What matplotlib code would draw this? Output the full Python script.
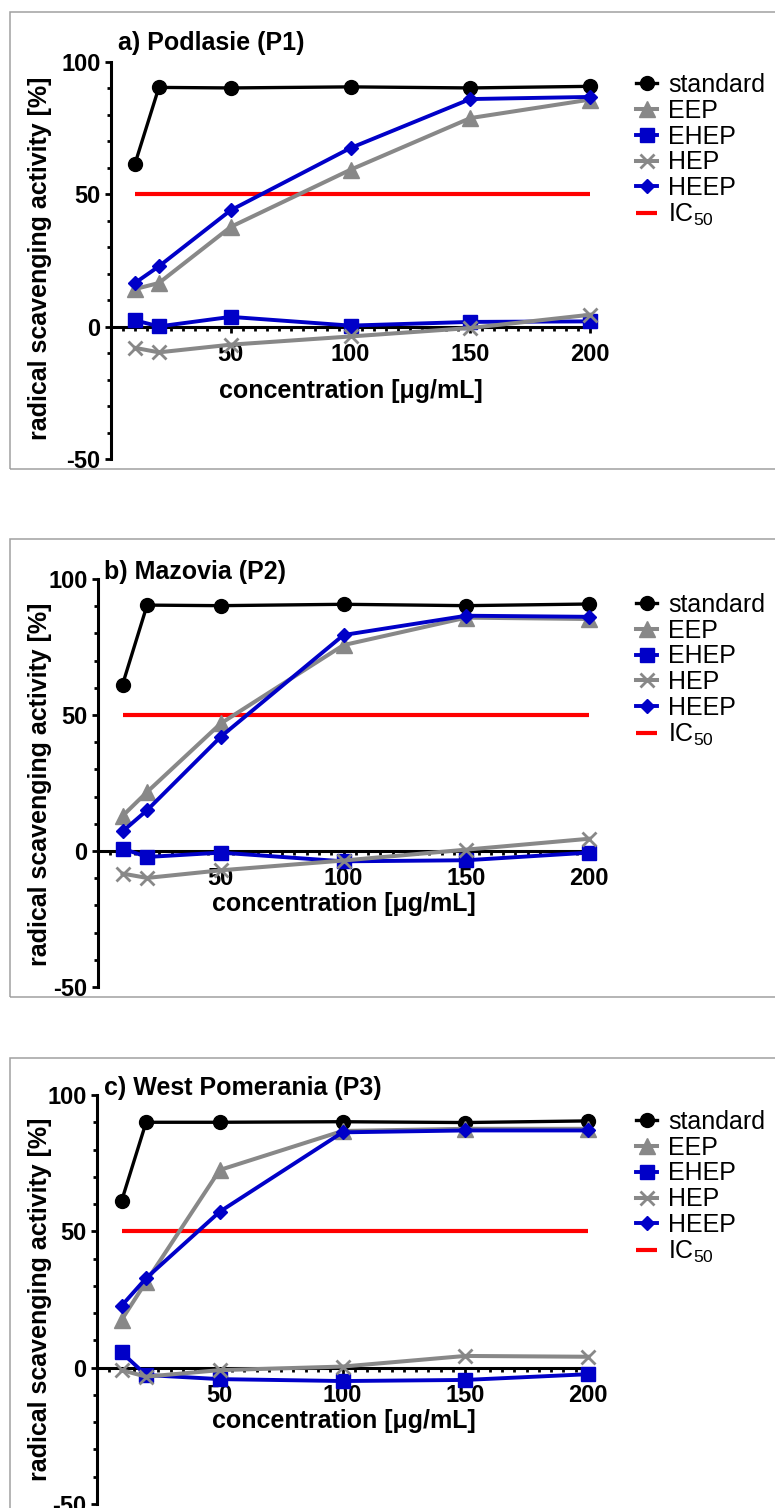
import matplotlib
matplotlib.use("Agg")
import matplotlib.pyplot as plt
from matplotlib.ticker import MultipleLocator, FixedLocator
from matplotlib.patches import Rectangle

plt.rcParams['font.family'] = ['Liberation Sans', 'DejaVu Sans']
plt.rcParams['mathtext.default'] = 'regular'
plt.rcParams['axes.unicode_minus'] = False

# ---------------- data ----------------
conc = [10, 20, 50, 100, 150, 200]
ic50 = 50

panel_titles = ["a) Podlasie (P1)", "b) Mazovia (P2)", "c) West Pomerania (P3)"]
series_names = ["standard", "EEP", "EHEP", "HEP", "HEEP"]

p1_standard = [61.5, 90.4, 90.2, 90.6, 90.2, 90.8]
p1_eep = [14.2, 16.5, 37.7, 59.3, 78.8, 85.8]
p1_ehep = [2.4, 0.1, 3.7, 0.4, 1.8, 2.0]
p1_hep = [-8.0, -9.7, -6.8, -3.7, -0.5, 4.5]
p1_heep = [16.5, 22.8, 44.0, 67.5, 86.0, 86.8]

p2_standard = [61.2, 90.4, 90.2, 90.7, 90.2, 90.8]
p2_eep = [12.9, 21.7, 46.9, 75.7, 85.8, 85.3]
p2_ehep = [0.9, -2.2, -0.6, -3.8, -3.4, -0.6]
p2_hep = [-8.3, -9.9, -7.1, -3.5, 0.5, 4.5]
p2_heep = [7.2, 15.0, 42.0, 79.4, 86.5, 86.1]

p3_standard = [61.1, 90.0, 90.0, 90.2, 89.9, 90.5]
p3_eep = [17.5, 31.5, 72.5, 86.8, 87.6, 87.6]
p3_ehep = [5.6, -2.7, -4.2, -4.9, -4.5, -2.4]
p3_hep = [-0.9, -3.3, -0.9, 0.4, 4.3, 4.0]
p3_heep = [22.7, 32.8, 57.2, 86.3, 87.0, 87.0]

panels = [
    [p1_standard, p1_eep, p1_ehep, p1_hep, p1_heep],
    [p2_standard, p2_eep, p2_ehep, p2_hep, p2_heep],
    [p3_standard, p3_eep, p3_ehep, p3_hep, p3_heep],
]

# ---------------- styles ----------------
BLACK = '#000000'
GRAY = '#888888'
BLUE = '#0000c8'
RED = '#ff0000'
styles = [
    dict(color=BLACK, marker='o', ms=10, lw=2.4),
    dict(color=GRAY, marker='^', ms=11, lw=2.9),
    dict(color=BLUE, marker='s', ms=9.5, lw=2.8),
    dict(color=GRAY, marker='x', ms=10, lw=2.9, mew=2.0),
    dict(color=BLUE, marker='D', ms=7.5, lw=2.8),
]

W, H = 775, 1508
fig = plt.figure(figsize=(W / 100, H / 100), dpi=100)

def fx(px):
    return px / W

def fy(py):
    return 1 - py / H

layout = [
    dict(x0=111, sx=2.395, ytop=62, ybot=459, box=(10, 12, 469),
         title=(118, 43), ylab=(40, 258), xlab=(351, 391), leg=(636, 73)),
    dict(x0=98, sx=2.455, ytop=579, ybot=987, box=(10, 539, 997),
         title=(104, 572), ylab=(40, 784), xlab=(344, 904), leg=(636, 593)),
    dict(x0=97, sx=2.455, ytop=1095, ybot=1504, box=(10, 1058, 1530),
         title=(104, 1088), ylab=(40, 1299), xlab=(344, 1421), leg=(636, 1110)),
]

XMAX = 202
for i, (L, data) in enumerate(zip(layout, panels)):
    bx, btop, bbot = L['box']
    fig.patches.append(Rectangle((fx(bx), fy(bbot)), fx(W + 20 - bx), (bbot - btop) / H,
                                 transform=fig.transFigure, fill=False,
                                 edgecolor='#a0a0a0', lw=1.1, zorder=0))
    ax = fig.add_axes([fx(L['x0']), fy(L['ybot']), fx(XMAX * L['sx']),
                       (L['ybot'] - L['ytop']) / H])
    ax.patch.set_alpha(0)
    ax.set_xlim(0, XMAX)
    ax.set_ylim(-50, 100)

    red_handle, = ax.plot([conc[0], conc[-1]], [ic50, ic50], color=RED, lw=3.0,
                          solid_capstyle='butt', zorder=2)
    handles = []
    for name, vals, st in zip(series_names, data, styles):
        h, = ax.plot(conc, vals, color=st['color'], marker=st['marker'],
                     ms=st['ms'], lw=st['lw'], mew=st.get('mew', 1.0),
                     label=name, clip_on=False, zorder=3)
        handles.append(h)

    for s in ['top', 'right']:
        ax.spines[s].set_visible(False)
    ax.spines['bottom'].set_position(('data', 0))
    ax.spines['left'].set_linewidth(2.2)
    ax.spines['bottom'].set_linewidth(2.2)
    ax.spines['left'].set_zorder(1)
    ax.spines['bottom'].set_zorder(1)

    ax.xaxis.set_major_locator(FixedLocator([50, 100, 150, 200]))
    ax.xaxis.set_minor_locator(MultipleLocator(5))
    ax.yaxis.set_major_locator(FixedLocator([-50, 0, 50, 100]))
    ax.yaxis.set_minor_locator(MultipleLocator(10))
    ax.tick_params(axis='both', which='major', length=4.5, width=2.0,
                   direction='out', labelsize=17)
    ax.tick_params(axis='both', which='minor', length=3.0, width=2.0,
                   direction='out')
    ax.tick_params(axis='x', which='major', pad=7)
    ax.tick_params(axis='y', which='major', pad=3)
    for lab in ax.get_xticklabels() + ax.get_yticklabels():
        lab.set_fontweight('bold')

    fig.text(fx(L['title'][0]), fy(L['title'][1]), panel_titles[i],
             fontsize=18, fontweight='bold', ha='left', va='center')
    fig.text(fx(L['ylab'][0]), fy(L['ylab'][1]), 'radical scavenging activity [%]',
             fontsize=18, fontweight='bold', rotation=90, ha='center', va='center')
    fig.text(fx(L['xlab'][0]), fy(L['xlab'][1]), 'concentration [\u03bcg/mL]',
             fontsize=18, fontweight='bold', ha='center', va='center')

    ax.legend(handles + [red_handle], series_names + ['IC$_{50}$'],
              loc='upper left', bbox_to_anchor=(fx(L['leg'][0]), fy(L['leg'][1])),
              bbox_transform=fig.transFigure, frameon=False, fontsize=18,
              handlelength=0.85, handletextpad=0.45, labelspacing=0.07,
              numpoints=1, borderpad=0, borderaxespad=0)

fig.savefig('out.png', dpi=100)
